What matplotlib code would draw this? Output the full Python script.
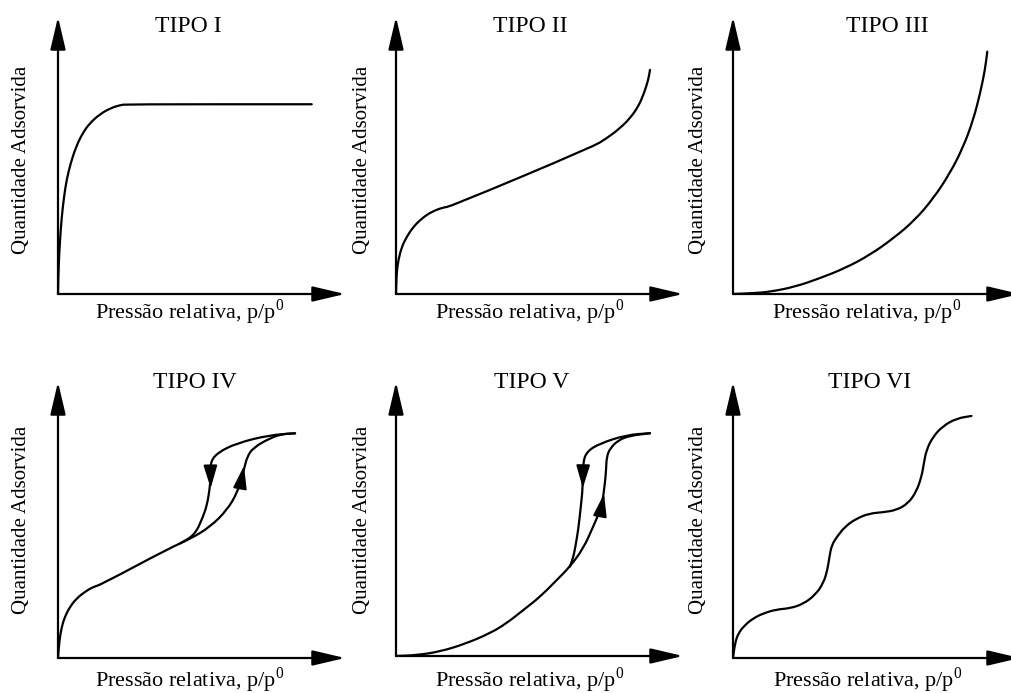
import numpy as np
import matplotlib
matplotlib.use('Agg')
import matplotlib.pyplot as plt
from matplotlib.path import Path
from matplotlib.patches import PathPatch

plt.rcParams['font.family'] = ['Liberation Serif', 'DejaVu Serif']
plt.rcParams['mathtext.fontset'] = 'custom'
plt.rcParams['mathtext.rm'] = 'Liberation Serif'

# isotherm curves (0-100 = origin to arrow tip)
t1_x = [0, 0.2, 0.7, 1.3, 2.1, 3.0, 4.4, 6.3, 8.6, 11.1, 14.6, 18.1, 21.6, 24.0, 88.4]
t1_y = [0, 9.9, 19.5, 27.9, 35.1, 41.2, 47.2, 53.2, 58.1, 61.7, 64.9, 67.0, 68.2, 68.5, 68.5]

t2_x = [0, 0.2, 0.8, 2.0, 3.7, 6.0, 9.0, 12.4, 16.5, 18.8, 68.7, 73.4, 78.0, 81.5, 84.4, 86.4, 87.9, 88.5]
t2_y = [0, 7.5, 12.2, 17.0, 20.6, 24.2, 27.3, 29.7, 31.3, 31.5, 53.2, 56.2, 59.8, 63.4, 67.6, 72.4, 77.3, 80.9]

t3_x = [0, 7.1, 12.9, 21.6, 30.3, 39.0, 47.7, 55.9, 63.4, 69.8, 75.6, 80.2, 83.7, 86.1, 87.8, 88.6]
t3_y = [0, 0.3, 0.8, 2.6, 5.7, 9.3, 14.1, 20.1, 26.7, 34.5, 43.6, 53.0, 62.8, 72.4, 80.9, 87.5]

t4_ads_x = [0, 0.5, 1.3, 2.4, 4.2, 6.5, 9.4, 12.3, 14.6, 39.0, 46.0, 53.0, 58.9, 62.4, 64.1, 65.0, 65.9, 67.9, 73.9, 78.4, 82.6]
t4_ads_y = [0, 6.5, 11.3, 15.0, 18.6, 21.6, 24.0, 25.8, 26.4, 39.9, 43.1, 47.5, 53.6, 59.8, 65.6, 69.2, 72.8, 76.1, 79.7, 81.2, 81.4]
t4_des_x = [82.6, 73.9, 62.4, 55.4, 53.0, 53.2, 52.8, 51.9, 50.5, 47.7, 42.5]
t4_des_y = [81.4, 80.8, 77.9, 74.3, 70.7, 65.6, 60.9, 55.4, 51.1, 44.6, 41.5]

t5_ads_x = [0, 7.2, 15.3, 24.0, 32.8, 38.6, 44.4, 50.2, 56.0, 60.6, 65.3, 68.7, 71.7, 72.8, 73.2, 73.4, 74.6, 77.5, 81.5, 88.5]
t5_ads_y = [0, 0.3, 1.6, 4.4, 8.3, 12.0, 16.8, 21.6, 27.7, 32.6, 39.3, 47.2, 54.5, 63.0, 67.9, 72.7, 75.8, 78.8, 80.4, 81.3]
t5_des_x = [88.5, 80.4, 71.1, 66.4, 65.1, 65.1, 64.4, 63.5, 62.4, 61.8, 60.6]
t5_des_y = [81.3, 80.7, 77.6, 74.6, 70.3, 61.8, 54.5, 46.0, 39.3, 36.2, 32.6]

t6_x = [0, 0.7, 1.8, 4.2, 7.1, 10.6, 15.2, 19.9, 24.5, 28.6, 31.5, 32.9, 33.6, 34.4, 36.2, 39.0,
        43.1, 47.7, 52.3, 57.0, 61.0, 63.9, 65.7, 66.5, 67.4, 69.7, 73.2, 77.9, 83.1]
t6_y = [0, 5.3, 8.9, 12.0, 14.4, 16.2, 17.6, 18.0, 19.6, 22.8, 27.1, 31.9, 36.7, 40.9, 43.9, 47.6,
        50.6, 52.4, 52.8, 53.6, 56.0, 60.3, 65.7, 70.5, 75.4, 80.2, 84.1, 86.8, 87.7]

# hysteresis direction arrows: (base, tip)
t4_arrows = [((53.1, 69.5), (53.2, 61.5)), ((63.6, 62.6), (64.8, 69.6))]
t5_arrows = [((65.2, 69.0), (65.1, 61.3)), ((71.2, 51.8), (72.5, 59.2))]

titles = ['TIPO I', 'TIPO II', 'TIPO III', 'TIPO IV', 'TIPO V', 'TIPO VI']
xlabel = r'Pressão relativa, p/p$^\mathregular{0}$'
ylabel = 'Quantidade Adsorvida'

curves = [
    [(t1_x, t1_y)],
    [(t2_x, t2_y)],
    [(t3_x, t3_y)],
    [(t4_ads_x, t4_ads_y), (t4_des_x, t4_des_y)],
    [(t5_ads_x, t5_ads_y), (t5_des_x, t5_des_y)],
    [(t6_x, t6_y)],
]
arrows = [[], [], [], t4_arrows, t5_arrows, []]

# layout in pixels: origin x, origin y, y-arrow tip
W, H = 1011, 693
panels = [(58, 294, 17), (396, 294, 17), (733, 294, 17),
          (58, 658, 382), (396, 656, 382), (733, 658, 382)]
axis_len = 287
title_pos = [(188, 27), (530, 27), (887, 27), (195, 383), (532, 383), (870, 383)]
xlab_pos = [(190, 312), (530, 312), (867, 312), (190, 680), (530, 680), (868, 680)]
ylab_pos = [(22, 160), (362, 160), (698, 160), (22, 520), (362, 520), (698, 520)]


def smooth_path(xs, ys):
    # read points used as quadratic control points -> smooth stroke
    pts = np.column_stack([xs, ys])
    verts = [pts[0], (pts[0] + pts[1]) / 2]
    codes = [Path.MOVETO, Path.LINETO]
    for k in range(1, len(pts) - 1):
        verts += [pts[k], (pts[k] + pts[k + 1]) / 2]
        codes += [Path.CURVE3, Path.CURVE3]
    verts.append(pts[-1])
    codes.append(Path.LINETO)
    return Path(verts, codes)


fig = plt.figure(figsize=(W / 100, H / 100), dpi=100)

for i in range(6):
    ox, oy, top = panels[i]
    ax = fig.add_axes([ox / W, 1 - oy / H, axis_len / W, (oy - top) / H])
    ax.set_xlim(0, 100)
    ax.set_ylim(0, 100)
    ax.axis('off')

    for end in [(1, 0), (0, 1)]:
        ax.annotate('', xy=end, xytext=(0, 0), xycoords='axes fraction',
                    arrowprops=dict(arrowstyle='-|>,head_length=2.0,head_width=0.47',
                                    mutation_scale=10, lw=1.6, color='k', fc='k',
                                    shrinkA=0, shrinkB=0))

    for cx, cy in curves[i]:
        ax.add_patch(PathPatch(smooth_path(cx, cy), fc='none', ec='k', lw=1.6,
                               joinstyle='round', capstyle='round', clip_on=False))

    for base, tip in arrows[i]:
        ax.annotate('', xy=tip, xytext=base,
                    arrowprops=dict(arrowstyle='-|>,head_length=1.4,head_width=0.42',
                                    mutation_scale=10, lw=1.4, color='k', fc='k',
                                    shrinkA=0, shrinkB=0))

    fig.text(title_pos[i][0] / W, 1 - title_pos[i][1] / H, titles[i],
             ha='center', va='center', fontsize=17)
    fig.text(xlab_pos[i][0] / W, 1 - xlab_pos[i][1] / H, xlabel,
             ha='center', va='center', fontsize=16)
    fig.text(ylab_pos[i][0] / W, 1 - ylab_pos[i][1] / H, ylabel,
             ha='center', va='center', fontsize=15, rotation=90)

fig.savefig('out.png', dpi=100)
